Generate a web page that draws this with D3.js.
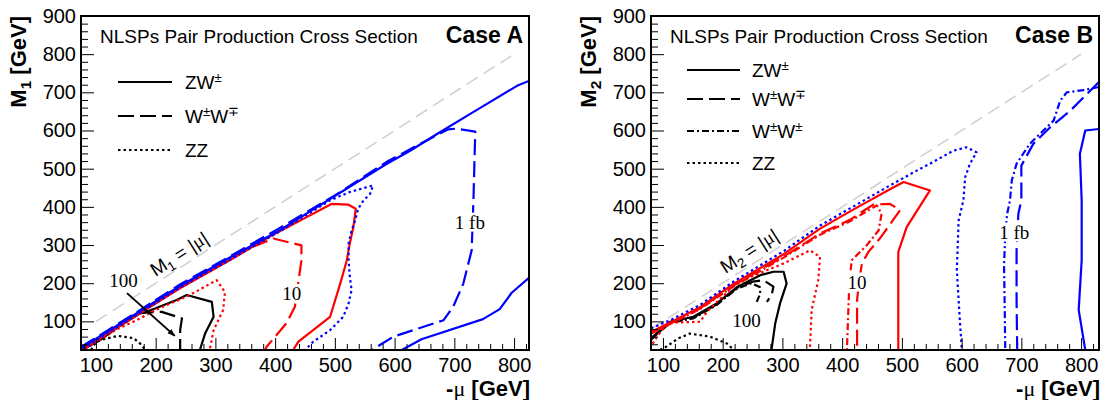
<!DOCTYPE html>
<html><head><meta charset="utf-8">
<script src="https://cdn.jsdelivr.net/npm/d3@7"></script>
<style>body{margin:0;background:#fff}svg{display:block}</style>
</head><body>
<svg id="c" width="1102" height="400"></svg>
<script>
// ---------------- data ----------------
const xTicks = [100, 200, 300, 400, 500, 600, 700, 800];
const yTicks = [100, 200, 300, 400, 500, 600, 700, 800, 900];
const xDomainA = [75, 825];
const xDomainB = [80, 830];
const yDomain = [25, 900];
const diagonalA = [[100, 100], [800, 800]];
const diagonalB = [[80, 80], [800, 800]];

// Case A contours [-mu, M1]
const caseA_ZW_100 = [[76,27],[90,36],[107,51],[140,88],[174,121],[185,125],[235,156],[252,169],[294,151],[297,112],[283,69],[274,25]];
const caseA_WW_100 = [[78,29],[100,47],[130,80],[160,112],[165,121],[210,125],[244,108],[241,77],[241,34],[241,25]];
const caseA_ZZ_100 = [[92,25],[96,38],[107,51],[137,62],[163,56],[177,38],[182,25]];
const caseA_ZW_10 = [[78,25],[90,37],[107,56],[157,105],[240,186],[324,260],[391,322],[495,408],[522,406],[535,395],[531,347],[525,304],[520,260],[509,199],[492,112],[439,47],[430,25]];
const caseA_WW_10 = [[79,27],[90,39],[107,58],[157,107],[240,190],[325,265],[347,286],[397,317],[444,299],[444,260],[433,138],[419,95],[386,34],[383,25]];
const caseA_ZZ_10 = [[82,25],[92,38],[107,52],[136,80],[168,103],[200,130],[257,169],[302,208],[316,177],[313,130],[297,77],[291,29],[288,25]];
const caseA_ZW_1_upper = [[75,29],[85,40],[107,61],[157,110],[240,192],[325,268],[408,339],[587,513],[626,547],[671,591],[726,643],[805,717],[825,730]];
const caseA_ZW_1_lower = [[612,25],[645,53],[748,106],[776,132],[796,175],[825,214]];
const caseA_WW_1 = [[75,32],[85,43],[107,64],[157,113],[240,196],[325,271],[408,345],[500,430],[587,518],[640,563],[690,603],[704,605],[735,597],[732,417],[729,286],[715,199],[698,138],[682,103],[598,60],[562,25]];
const caseA_ZZ_1 = [[80,26],[107,57],[157,106],[240,188],[325,262],[408,336],[492,417],[525,439],[564,456],[559,434],[548,417],[539,395],[534,365],[528,338],[523,304],[523,260],[525,217],[528,182],[523,147],[514,112],[492,77],[464,47],[450,25]];

// Case B contours [-mu, M2]
const caseB_ZW_100 = [[80,52],[112,99],[151,112],[190,147],[224,190],[263,221],[285,230],[302,230],[307,199],[296,147],[288,95],[282,29],[282,25]];
const caseB_WW_100 = [[80,56],[112,98],[151,110],[190,145],[224,188],[250,204],[268,208],[285,191],[282,169],[274,151]];
const caseB_WWss_100 = [[80,54],[112,96],[151,108],[190,143],[224,186],[248,200],[262,190],[263,173],[257,151]];
const caseB_ZZ_100 = [[95,25],[106,34],[125,55],[145,68],[179,60],[207,42],[216,29],[218,25]];
const caseB_ZW_10 = [[80,72],[112,97],[162,137],[218,198],[302,276],[363,343],[420,394],[480,446],[503,465],[547,443],[508,347],[494,282],[494,25]];
const caseB_WW_10 = [[80,70],[112,95],[162,134],[218,194],[302,270],[363,330],[413,366],[452,406],[480,408],[497,391],[463,317],[444,282],[433,251],[428,200],[425,156],[425,25]];
const caseB_WWss_10 = [[80,68],[112,93],[162,132],[218,192],[302,267],[363,327],[413,362],[458,404],[466,382],[461,338],[441,299],[416,260],[412,200],[411,156],[408,25]];
const caseB_ZZ_10 = [[78,29],[90,60],[106,92],[120,97],[162,99],[175,128],[220,195],[246,216],[301,251],[346,286],[363,269],[360,208],[349,130],[346,29],[346,25]];
const caseB_ZW_1 = [[830,604],[807,600],[798,539],[801,417],[801,260],[796,130],[807,25]];
const caseB_WW_1 = [[830,727],[782,652],[748,608],[720,565],[700,508],[700,417],[695,382],[692,286],[692,156],[693,34],[693,25]];
const caseB_WWss_1 = [[830,714],[804,706],[776,700],[765,678],[754,626],[714,565],[692,513],[684,469],[681,417],[676,380],[673,320],[671,250],[672,150],[673,34],[673,25]];
const caseB_ZZ_1 = [[80,82],[112,103],[162,143],[218,204],[302,284],[363,351],[420,402],[480,456],[525,495],[547,513],[586,547],[608,556],[625,543],[614,513],[606,478],[603,417],[595,365],[592,234],[597,103],[600,34],[600,25]];

// annotation texts and their anchor points in data units
const labelsA = [{t:"100", at:[146,190]}, {t:"10", at:[428,156]}, {t:"1 fb", at:[726,343]}];
const labelsB = [{t:"100", at:[240,86]}, {t:"10", at:[425,186]}, {t:"1 fb", at:[688,317]}];
const arrowA = [[152,174],[232,62]];
const diagLabelA = [241, 273];
const diagLabelB = [246, 281];

// ---------------- styles ----------------
const DASH = {solid: null, dashed: "16,6", dotted: "2.5,3", dashdot: "7,3,2,3"};
const COL = {c100: "#000000", c10: "#ff0000", c1: "#0000ff"};

const panels = [
  {name:"A", left:81, right:529, xDomain:xDomainA, diagonal:diagonalA, ylab:"1", caseText:"Case A",
   labels:labelsA, arrow:arrowA, diagLabel:diagLabelA,
   contours:[
     {d:caseA_ZZ_100,c:COL.c100,s:"dotted"},{d:caseA_WW_100,c:COL.c100,s:"dashed"},{d:caseA_ZW_100,c:COL.c100,s:"solid"},
     {d:caseA_ZZ_10,c:COL.c10,s:"dotted"},{d:caseA_WW_10,c:COL.c10,s:"dashed"},{d:caseA_ZW_10,c:COL.c10,s:"solid"},
     {d:caseA_ZZ_1,c:COL.c1,s:"dotted"},{d:caseA_WW_1,c:COL.c1,s:"dashed"},{d:caseA_ZW_1_upper,c:COL.c1,s:"solid"},{d:caseA_ZW_1_lower,c:COL.c1,s:"solid"}
   ],
   legend:{x0:118, x1:172, tx:185, rows:[
     {parts:[["ZW"],["±",1]], s:"solid", y:82},
     {parts:[["W"],["±",1],["W"],["∓",1]], s:"dashed", y:116},
     {parts:[["ZZ"]], s:"dotted", y:150}]}
  },
  {name:"B", left:651, right:1099, xDomain:xDomainB, diagonal:diagonalB, ylab:"2", caseText:"Case B",
   labels:labelsB, arrow:null, diagLabel:diagLabelB,
   contours:[
     {d:caseB_ZZ_100,c:COL.c100,s:"dotted"},{d:caseB_WWss_100,c:COL.c100,s:"dashdot"},{d:caseB_WW_100,c:COL.c100,s:"dashed"},{d:caseB_ZW_100,c:COL.c100,s:"solid"},
     {d:caseB_ZZ_10,c:COL.c10,s:"dotted"},{d:caseB_WWss_10,c:COL.c10,s:"dashdot"},{d:caseB_WW_10,c:COL.c10,s:"dashed"},{d:caseB_ZW_10,c:COL.c10,s:"solid"},
     {d:caseB_ZZ_1,c:COL.c1,s:"dotted"},{d:caseB_WWss_1,c:COL.c1,s:"dashdot"},{d:caseB_WW_1,c:COL.c1,s:"dashed"},{d:caseB_ZW_1,c:COL.c1,s:"solid"}
   ],
   legend:{x0:687, x1:740, tx:752, rows:[
     {parts:[["ZW"],["±",1]], s:"solid", y:70},
     {parts:[["W"],["±",1],["W"],["∓",1]], s:"dashed", y:99},
     {parts:[["W"],["±",1],["W"],["±",1]], s:"dashdot", y:131},
     {parts:[["ZZ"]], s:"dotted", y:163}]}
  }
];

const TOP = 16, BOTTOM = 350;
const SANS = "'Liberation Sans', Arial, Helvetica, sans-serif";
const SERIF = "'Liberation Serif', 'Times New Roman', serif";
const svg = d3.select("#c");

function rich(textSel, parts) {
  let sup = false;
  parts.forEach(p => {
    const ts = textSel.append("tspan").text(p[0]);
    if (p[1] && !sup) { ts.attr("dy", -7).attr("font-size", "0.7em"); sup = true; }
    else if (!p[1] && sup) { ts.attr("dy", 7); sup = false; }
    else if (p[1]) { ts.attr("font-size", "0.7em"); }
  });
}

function drawPanel(P) {
  const x = d3.scaleLinear().domain(P.xDomain).range([P.left, P.right]);
  const y = d3.scaleLinear().domain(yDomain).range([BOTTOM, TOP]);
  const line = d3.line().x(d => x(d[0])).y(d => y(d[1]));
  const g = svg.append("g");
  const cid = "clip" + P.name;
  svg.append("clipPath").attr("id", cid).append("rect")
    .attr("x", P.left).attr("y", TOP).attr("width", P.right - P.left).attr("height", BOTTOM - TOP);
  const plot = g.append("g").attr("clip-path", `url(#${cid})`);

  // diagonal M = |mu|
  plot.append("path").datum(P.diagonal).attr("d", line)
    .attr("fill", "none").attr("stroke", "#cfcfcf").attr("stroke-width", 1.5).attr("stroke-dasharray", "13,7");

  // contours
  P.contours.forEach(c => {
    plot.append("path").datum(c.d).attr("d", line)
      .attr("fill", "none").attr("stroke", c.c).attr("stroke-width", 2.2)
      .attr("stroke-linejoin", "round")
      .attr("stroke-dasharray", DASH[c.s]);
  });

  // diagonal label
  const ang = Math.atan2(y(800) - y(100), x(800) - x(100)) * 180 / Math.PI;
  const dl = plot.append("text")
    .attr("transform", `translate(${x(P.diagLabel[0])},${y(P.diagLabel[1])}) rotate(${ang})`)
    .attr("text-anchor", "middle").attr("dominant-baseline", "middle")
    .attr("font-family", SANS).attr("font-size", 19).attr("fill", "#000");
  dl.append("tspan").text("M");
  dl.append("tspan").text(P.ylab).attr("font-size", "0.7em").attr("dy", 5);
  dl.append("tspan").text(" = |").attr("dy", -5);
  dl.append("tspan").text("μ").attr("font-family", SERIF);
  dl.append("tspan").text("|");

  // arrow
  if (P.arrow) {
    const defs = svg.append("defs");
    defs.append("marker").attr("id", "ah").attr("viewBox", "0 0 10 10").attr("refX", 9).attr("refY", 5)
      .attr("markerWidth", 8).attr("markerHeight", 8).attr("orient", "auto-start-reverse")
      .attr("markerUnits", "userSpaceOnUse")
      .append("path").attr("d", "M0,1.5 L10,5 L0,8.5 Z").attr("fill", "#000");
    plot.append("path").datum(P.arrow).attr("d", line)
      .attr("stroke", "#000").attr("stroke-width", 2).attr("fill", "none").attr("marker-end", "url(#ah)");
  }

  // cross-section labels with white background
  P.labels.forEach(L => {
    const t = plot.append("text").attr("x", x(L.at[0])).attr("y", y(L.at[1]))
      .attr("text-anchor", "middle").attr("font-family", SERIF).attr("font-size", 19).attr("fill", "#000")
      .text(L.t);
    const bb = t.node().getBBox();
    plot.insert("rect", () => t.node())
      .attr("x", bb.x - 1).attr("y", bb.y + 1).attr("width", bb.width + 2).attr("height", bb.height - 2)
      .attr("fill", "#fff");
  });

  // axes: major and minor ticks inside
  const minorX = d3.range(Math.ceil(P.xDomain[0] / 20) * 20, P.xDomain[1], 20).filter(v => v % 100 !== 0);
  const minorY = d3.range(40, 900, 20).filter(v => v % 100 !== 0);
  const ax = g.append("g").attr("transform", `translate(0,${BOTTOM})`)
    .call(d3.axisBottom(x).tickValues(xTicks).tickSize(-12).tickPadding(8).tickFormat(d3.format("d")));
  const axm = g.append("g").attr("transform", `translate(0,${BOTTOM})`)
    .call(d3.axisBottom(x).tickValues(minorX).tickSize(-6).tickFormat(""));
  const ay = g.append("g").attr("transform", `translate(${P.left},0)`)
    .call(d3.axisLeft(y).tickValues(yTicks).tickSize(-13).tickPadding(5).tickFormat(d3.format("d")));
  const aym = g.append("g").attr("transform", `translate(${P.left},0)`)
    .call(d3.axisLeft(y).tickValues(minorY).tickSize(-7).tickFormat(""));
  [ax, axm, ay, aym].forEach(a => {
    a.select(".domain").remove();
    a.selectAll("line").attr("stroke", "#000").attr("stroke-width", 1);
    a.selectAll("text").attr("font-family", SANS).attr("font-size", 20).attr("fill", "#000");
  });

  // frame
  g.append("rect").attr("x", P.left).attr("y", TOP).attr("width", P.right - P.left).attr("height", BOTTOM - TOP)
    .attr("fill", "none").attr("stroke", "#000").attr("stroke-width", 2);

  // title texts
  g.append("text").attr("x", P.left + 19).attr("y", 43)
    .attr("font-family", SANS).attr("font-size", 19).attr("fill", "#000")
    .text("NLSPs Pair Production Cross Section");
  g.append("text").attr("x", P.right - 6).attr("y", 43).attr("text-anchor", "end")
    .attr("font-family", SANS).attr("font-size", 23).attr("font-weight", "bold").attr("fill", "#000")
    .text(P.caseText);

  // legend
  P.legend.rows.forEach(r => {
    g.append("line").attr("x1", P.legend.x0).attr("x2", P.legend.x1).attr("y1", r.y).attr("y2", r.y)
      .attr("stroke", "#000").attr("stroke-width", 2).attr("stroke-dasharray", DASH[r.s]);
    const t = g.append("text").attr("x", P.legend.tx).attr("y", r.y + 7)
      .attr("font-family", SANS).attr("font-size", 19).attr("fill", "#000");
    rich(t, r.parts);
  });

  // axis titles
  const xt = g.append("text").attr("x", P.right + 1).attr("y", 396).attr("text-anchor", "end")
    .attr("font-family", SANS).attr("font-size", 22).attr("font-weight", "bold").attr("fill", "#000");
  xt.append("tspan").text("-");
  xt.append("tspan").text("μ").attr("font-family", SERIF).attr("font-weight", "normal");
  xt.append("tspan").text(" [GeV]");

  const yt = g.append("text").attr("transform", `translate(${P.left - 55},${TOP}) rotate(-90)`)
    .attr("text-anchor", "end")
    .attr("font-family", SANS).attr("font-size", 22).attr("font-weight", "bold").attr("fill", "#000");
  yt.append("tspan").text("M");
  yt.append("tspan").text(P.ylab).attr("font-size", "0.7em").attr("dy", 5);
  yt.append("tspan").text(" [GeV]").attr("dy", -5);
}

panels.forEach(drawPanel);
</script>
</body></html>
